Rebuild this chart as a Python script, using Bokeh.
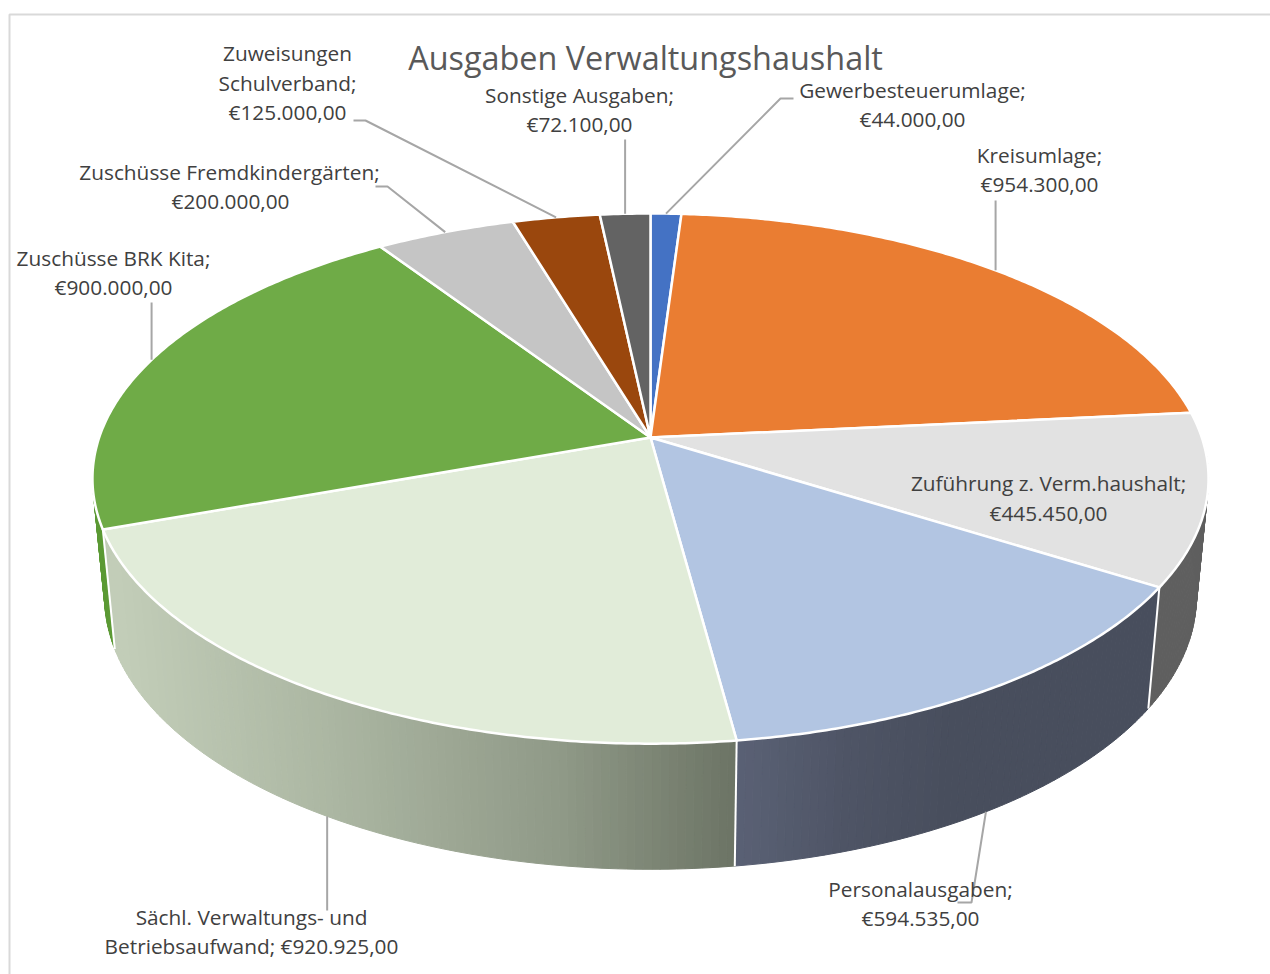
import numpy as np
from bokeh.plotting import figure
from bokeh.models import Range1d
from bokeh.core.properties import value
from bokeh.embed import file_html
from bokeh.resources import INLINE

# ---- data ----
categories = ["Gewerbesteuerumlage", "Kreisumlage", "Zuführung z. Verm.haushalt", "Personalausgaben",
              "Sächl. Verwaltungs- und Betriebsaufwand", "Zuschüsse BRK Kita",
              "Zuschüsse Fremdkindergärten", "Zuweisungen Schulverband", "Sonstige Ausgaben"]
amounts = [44000, 954300, 445450, 594535, 920925, 900000, 200000, 125000, 72100]
top_colors = ["#4472C4", "#EA7D32", "#E2E2E2", "#B2C5E2", "#E1ECD9", "#6FAB47", "#C5C5C5", "#9A470D", "#636363"]

title_text = "Ausgaben Verwaltungshaushalt"
label_lines = [
    ("Gewerbesteuerumlage;", 912, 89), ("€44.000,00", 912, 118),
    ("Kreisumlage;", 1039, 154), ("€954.300,00", 1039, 183),
    ("Zuführung z. Verm.haushalt;", 1048, 482), ("€445.450,00", 1048, 512),
    ("Personalausgaben;", 920, 888), ("€594.535,00", 920, 917),
    ("Sächl. Verwaltungs- und", 251, 916), ("Betriebsaufwand; €920.925,00", 251, 945),
    ("Zuschüsse BRK Kita;", 113, 257), ("€900.000,00", 113, 286),
    ("Zuschüsse Fremdkindergärten;", 229, 171), ("€200.000,00", 230, 200),
    ("Zuweisungen", 287, 52), ("Schulverband;", 287, 82), ("€125.000,00", 287, 111),
    ("Sonstige Ausgaben;", 579, 94), ("€72.100,00", 579, 123),
]

# ---- projection of the disc ----
CX = 650.0
K = -0.155
TOP = dict(A=551.3, B=258.7, Y0=437.0)
BOT = dict(A=539.3, B=266.0, Y0=554.0)


def proj(theta_deg, plane):
    t = np.radians(np.asarray(theta_deg, dtype=float))
    x, y = np.cos(t), np.sin(t)
    d = 1 + K * y
    return CX + plane["A"] * x / d, plane["Y0"] + plane["B"] * y / d


def interp_color(X, anchors):
    xs = [a[0] for a in anchors]
    cs = np.array([a[1] for a in anchors], dtype=float)
    rgb = [int(round(np.interp(X, xs, cs[:, i]))) for i in range(3)]
    return "#%02x%02x%02x" % tuple(rgb)


total = sum(amounts)
cum = np.concatenate([[0], np.cumsum(amounts)]) / total
start = cum[:-1] * 360 - 90
end = cum[1:] * 360 - 90
mid = (start + end) / 2

W, H = 1270, 974
p = figure(width=W, height=H, x_range=Range1d(0, W), y_range=Range1d(H, 0),
           output_backend="svg", toolbar_location=None, min_border=0,
           outline_line_color=None, background_fill_color="white", border_fill_color="white")
p.axis.visible = False
p.grid.visible = False

# chart frame
p.line([9, 9, W], [H, 14, 14], line_color="#D9D9D9", line_width=2)

# walls: (slice index, shading)
GRAY = [(0, (95, 95, 95)), (2000, (95, 95, 95))]
BLUE = [(736, (90, 97, 117)), (850, (78, 84, 101)), (950, (72, 78, 93)), (1200, (72, 78, 93))]
GREEN = [(115, (194, 205, 184)), (330, (171, 182, 162)), (560, (143, 153, 135)), (735, (108, 116, 101))]
SLIVER = [(0, (92, 154, 53)), (2000, (92, 154, 53))]
walls = [(5, SLIVER, end[4], 195), (2, GRAY, start[2], end[2]), (3, BLUE, start[3], end[3]), (4, GREEN, start[4], end[4])]

for idx, shade, a0, a1 in walls:
    edges = np.arange(a0, a1, 0.75)
    edges = np.append(edges, a1)
    xs, ys, cols = [], [], []
    for t0, t1 in zip(edges[:-1], edges[1:]):
        x0, y0 = proj([t0, t1], TOP)
        x1, y1 = proj([t1, t0], BOT)
        xs.append(list(x0) + list(x1))
        ys.append(list(y0) + list(y1))
        cols.append(interp_color(np.mean(x0), shade))
    p.patches(xs, ys, fill_color=cols, line_color=cols, line_width=1)

# white dividers on the wall
for t in [start[3], end[3], end[4]]:
    x0, y0 = proj(t, TOP)
    x1, y1 = proj(t, BOT)
    p.line([float(x0), float(x1)], [float(y0), float(y1)], line_color="white", line_width=2)

# top surface
xs, ys = [], []
for a0, a1 in zip(start, end):
    th = np.linspace(a0, a1, max(4, int((a1 - a0) * 2)))
    x, y = proj(th, TOP)
    xs.append([CX] + list(x))
    ys.append([TOP["Y0"]] + list(y))
p.patches(xs, ys, fill_color=top_colors, line_color="white", line_width=2.5, line_join="round")

# leader lines: anchor on the rim comes from the slice's mid angle
leaders = [
    (0, TOP, [(780, 98), (793, 98)]),
    (1, TOP, [(None, 200)]),
    (8, TOP, [(None, 139)]),
    (7, TOP, [(365, 120), (353, 120)]),
    (6, TOP, [(387, 186), (375, 186)]),
    (5, TOP, [(None, 302)]),
    (4, BOT, [(None, 910)]),
    (3, BOT, [(971, 902), (957, 902)]),
]
for i, plane, tail in leaders:
    ax, ay = proj(mid[i], plane)
    lx = [float(ax)] + [float(ax) if t[0] is None else t[0] for t in tail]
    ly = [float(ay)] + [t[1] for t in tail]
    p.line(lx, ly, line_color="#A6A6A6", line_width=2)

# texts
p.text([645], [56], text=[title_text], text_font=value("Open Sans"), text_font_size="32.4px",
       text_color="#595959", text_align="center", text_baseline="middle")
p.text([l[1] for l in label_lines], [l[2] for l in label_lines], text=[l[0] for l in label_lines],
       text_font=value("Open Sans"), text_font_size="20.8px", text_color="#404040",
       text_align="center", text_baseline="middle")

open("out.html", "w").write(file_html(p, INLINE))
